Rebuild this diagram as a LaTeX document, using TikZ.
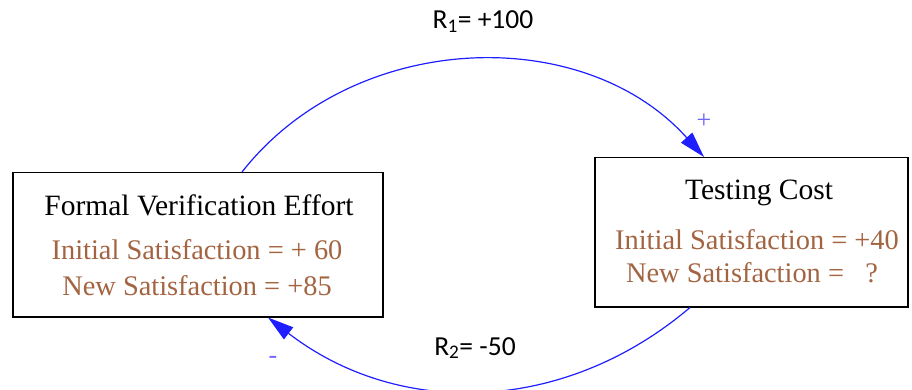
\documentclass[tikz,border=0pt]{standalone}
\usepackage{fontspec}
\setmainfont{Liberation Serif}
\newfontfamily\calib{Carlito}
\usetikzlibrary{arrows.meta}
\definecolor{sat}{RGB}{163,100,65}
\definecolor{sign}{RGB}{110,100,255}
\definecolor{link}{RGB}{30,30,255}
\tikzset{
  box/.style={draw=black, line width=1.5pt, rectangle, inner sep=0pt, anchor=north west},
  ttl/.style={anchor=base, inner sep=0pt, font=\fontsize{29.5}{31}\selectfont, text=black},
  sattxt/.style={anchor=base, inner sep=0pt, font=\fontsize{28.4}{30}\selectfont, text=sat},
  rlbl/.style={anchor=base, inner sep=0pt, font=\calib\fontsize{27.5}{30}\selectfont, text=black},
  sgn/.style={inner sep=0pt, text=sign},
  link/.style={draw=link, line width=1.2pt, -{Triangle[length=26pt,width=15pt]}}
}
\begin{document}
\begin{tikzpicture}[x=1pt,y=1pt]
\useasboundingbox (0,0) rectangle (912,-390);
% boxes
\node[box, minimum width=370pt, minimum height=144pt] (fve) at (12,-172) {};
\node[box, minimum width=313pt, minimum height=149pt] (tc) at (594,-157) {};
% left box texts
\node[ttl] (fvet) at (199,-215) {Formal Verification Effort};
\node[sattxt] (fvei) at (197,-259) {Initial Satisfaction = + 60};
\node[sattxt] (fven) at (197,-295) {New Satisfaction = +85};
% right box texts
\node[ttl] (tct) at (759,-200) {Testing Cost};
\node[sattxt] (tci) at (757,-249) {Initial Satisfaction = +40};
\node[sattxt] (tcn) at (752,-282) {New Satisfaction =\ \ \ ?};
% links
\draw[link] ([xshift=230pt]fve.north west) to[bend left=50] ([xshift=110pt]tc.north west);
\draw[link] ([xshift=96pt]tc.south west) to[bend left=39] ([xshift=256pt]fve.south west);
% labels
\node[rlbl] (r1) at (483,-29) {R\textsubscript{1}= +100};
\node[rlbl] (r2) at (475,-355) {R\textsubscript{2}= -50};
\node[sgn, font=\fontsize{26}{28}\selectfont] (plus) at (704,-121) {+};
\node[sgn, font=\fontsize{26}{28}\selectfont] (minus) at (273,-360) {-};
\end{tikzpicture}
\end{document}
